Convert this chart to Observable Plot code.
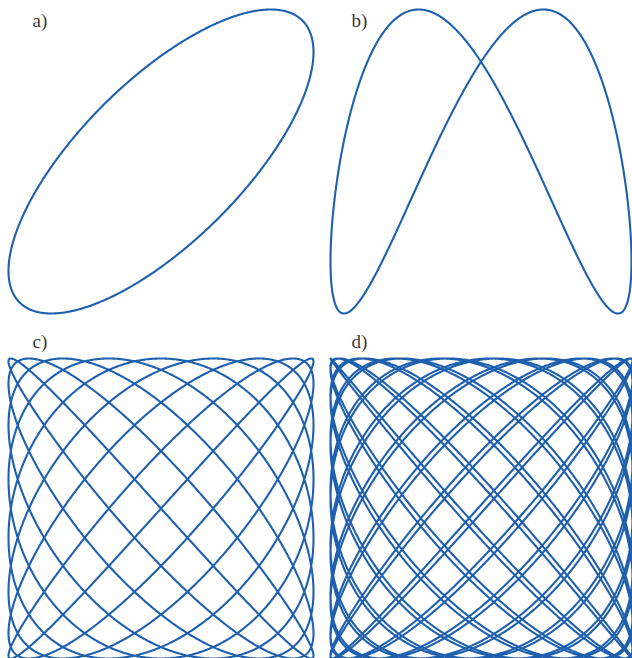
<!DOCTYPE html>
<html>
<head>
<meta charset="utf-8">
<script src="https://cdn.jsdelivr.net/npm/d3@7"></script>
<script src="https://cdn.jsdelivr.net/npm/@observablehq/plot@0.6"></script>
<style>
  html, body { margin: 0; padding: 0; background: #fff; }
  #wrap { position: relative; width: 632px; height: 658px; overflow: hidden; background: #fff; }
  #wrap > div { position: absolute; }
  #wrap text { font-family: "Liberation Serif", "DejaVu Serif", serif; }
</style>
</head>
<body>
<div id="wrap"></div>
<script>
// Lissajous parameters: x = sin(fx·t + px), y = sin(fy·t + py)
const labels    = ["a)", "b)", "c)", "d)"];
const freqX     = [1, 1, 8, 17];
const freqY     = [1, 2, 9, 19];
const phaseXDeg = [44, 90, 0, 1.4];
const phaseYDeg = [0, 221, 0, 0];
const samples   = [900, 1400, 7000, 18000];

const color = "#1f60ae";
const layout = [
  {left: 0,   top: 0,   width: 320, height: 322, marginTop: 9,  marginBottom: 9, marginLeft: 8,  marginRight: 7, dx: 24, dy: 17},
  {left: 316, top: 0,   width: 316, height: 322, marginTop: 9,  marginBottom: 9, marginLeft: 14, marginRight: 1, dx: 21, dy: 17},
  {left: 0,   top: 322, width: 320, height: 336, marginTop: 36, marginBottom: 0, marginLeft: 8,  marginRight: 7, dx: 24, dy: -11},
  {left: 316, top: 322, width: 316, height: 336, marginTop: 36, marginBottom: 0, marginLeft: 14, marginRight: 0, dx: 21, dy: -11}
];

const wrap = document.getElementById("wrap");
labels.forEach((label, i) => {
  const n = samples[i];
  const rad = Math.PI / 180;
  const pts = d3.range(n + 1).map(k => {
    const t = 2 * Math.PI * k / n;
    return {x: Math.sin(freqX[i] * t + phaseXDeg[i] * rad), y: Math.sin(freqY[i] * t + phaseYDeg[i] * rad)};
  });
  const L = layout[i];
  const chart = Plot.plot({
    width: L.width, height: L.height,
    marginTop: L.marginTop, marginBottom: L.marginBottom,
    marginLeft: L.marginLeft, marginRight: L.marginRight,
    x: {domain: [-1, 1], axis: null},
    y: {domain: [-1, 1], axis: null},
    style: {background: "transparent", overflow: "visible", fontFamily: "Liberation Serif, DejaVu Serif, serif"},
    marks: [
      Plot.line(pts, {x: "x", y: "y", stroke: color, strokeWidth: 2.1, curve: "linear"}),
      Plot.text([label], {frameAnchor: "top-left", text: d => d, dx: L.dx, dy: L.dy,
        textAnchor: "start", lineAnchor: "bottom", fontSize: 19, fill: "#3a3a3a"})
    ]
  });
  const holder = document.createElement("div");
  holder.style.left = L.left + "px";
  holder.style.top = L.top + "px";
  holder.appendChild(chart);
  wrap.appendChild(holder);
});
</script>
</body>
</html>
